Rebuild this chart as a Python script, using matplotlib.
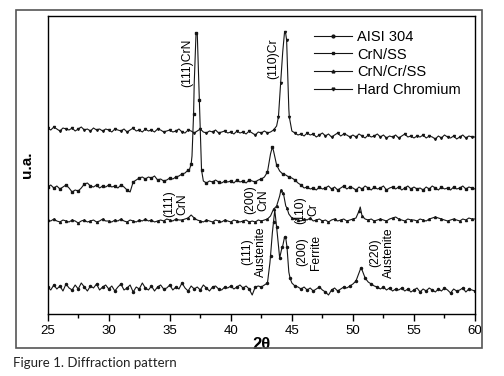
import numpy as np
import matplotlib
matplotlib.use('Agg')
import matplotlib.pyplot as plt
from matplotlib.lines import Line2D
from matplotlib.patches import Rectangle

plt.rcParams['font.family'] = ['Liberation Sans', 'DejaVu Sans']

# 2-theta sampling grid (0.25 deg) shared by all four scans
two_theta = np.arange(25, 60.001, 0.25)

# intensities (arbitrary units, offset per sample)
aisi_304 = [27, 24, 29, 25, 28, 23, 30, 26, 24, 29, 25, 31, 27, 23, 28, 26, 30, 24, 27, 29,
            25, 28, 23, 27, 30, 24, 26, 29, 22, 27, 25, 31, 26, 24, 28, 23, 27, 29, 25, 26,
            29, 24, 27, 25, 31, 26, 23, 28, 25, 27, 24, 29, 26, 23, 27, 28, 25, 24, 27, 26,
            28, 25, 27, 29, 26, 28, 25, 19, 27, 28, 27, 29, 31, 58, 92, 87, 56, 68, 76, 42,
            31, 28, 27, 25, 27, 24, 26, 23, 25, 27, 24, 22, 19, 24, 26, 23, 25, 27, 26, 28,
            30, 33, 41, 44, 36, 32, 30, 28, 27, 25, 27, 24, 26, 23, 25, 24, 26, 23, 25, 22,
            24, 26, 22, 25, 23, 26, 24, 22, 25, 23, 26, 24, 21, 25, 23, 24, 26, 22, 25, 24,
            23]
crn_ss = [127, 129, 126, 128, 125, 127, 129, 126, 122, 124, 123, 126, 130, 131, 128, 127, 129, 126, 128, 127,
          129, 127, 128, 126, 129, 127, 124, 122, 132, 134, 136, 137, 135, 137, 136, 138, 134, 135, 133, 134,
          136, 135, 137, 138, 140, 141, 144, 150, 230, 281, 180, 133, 131, 133, 132, 134, 132, 131, 133, 132,
          133, 131, 134, 132, 133, 131, 134, 133, 132, 134, 135, 137, 142, 160, 163, 149, 143, 140, 139, 137,
          136, 134, 131, 129, 126, 127, 125, 126, 124, 127, 125, 126, 128, 125, 127, 124, 126, 128, 125, 127,
          126, 124, 127, 125, 128, 126, 124, 127, 125, 126, 128, 124, 126, 127, 125, 127, 124, 126, 128, 125,
          127, 125, 126, 124, 127, 125, 128, 126, 124, 127, 125, 126, 124, 127, 125, 126, 128, 125, 127, 126,
          125]
crn_cr_ss = [94, 93, 95, 93, 92, 94, 93, 92, 94, 93, 91, 93, 94, 92, 93, 94, 92, 93, 95, 93,
             93, 92, 94, 93, 95, 93, 92, 94, 93, 92, 94, 93, 95, 93, 94, 92, 93, 94, 93, 95,
             94, 93, 95, 94, 94, 95, 96, 99, 96, 94, 93, 92, 94, 93, 92, 94, 93, 92, 94, 93,
             92, 94, 93, 92, 93, 94, 92, 93, 92, 94, 93, 94, 95, 98, 105, 108, 118, 120, 108, 100,
             96, 95, 94, 93, 95, 94, 96, 93, 94, 95, 93, 94, 92, 94, 95, 93, 94, 95, 93, 94,
             95, 96, 103, 98, 95, 94, 95, 93, 94, 95, 94, 93, 95, 96, 97, 95, 94, 93, 95, 94,
             94, 93, 95, 94, 93, 95, 96, 97, 96, 95, 94, 93, 94, 95, 94, 93, 95, 94, 96, 95,
             95]
hard_cr = [186, 184, 187, 185, 183, 186, 185, 184, 186, 183, 185, 187, 184, 185, 183, 186, 184, 185, 183, 185,
           184, 182, 185, 184, 183, 185, 182, 184, 186, 183, 184, 182, 185, 183, 184, 182, 185, 184, 182, 183,
           184, 182, 183, 185, 182, 181, 184, 183, 181, 183, 185, 182, 181, 183, 182, 184, 181, 182, 183, 181,
           182, 180, 183, 181, 182, 180, 183, 181, 179, 182, 181, 183, 181, 182, 184, 188, 215, 262, 280, 205,
           183, 181, 179, 180, 178, 181, 179, 180, 177, 179, 181, 178, 180, 177, 179, 181, 178, 180, 179, 177,
           179, 177, 180, 178, 176, 179, 177, 178, 180, 177, 179, 176, 178, 177, 179, 176, 178, 180, 177, 178,
           176, 178, 177, 179, 176, 178, 177, 175, 178, 176, 179, 177, 176, 178, 175, 177, 179, 176, 178, 177,
           177]

# extra points read on the peaks
aisi_peak_x = [43.2, 43.4, 43.6, 43.8, 44.0, 44.2, 44.4, 44.6, 44.85, 50.65]
aisi_peak_y = [51, 81, 104, 81, 56, 67, 77, 67, 36, 46]
crn_ss_peak_x = [36.6, 36.82, 36.95, 37.15, 37.42, 37.6, 43.4]
crn_ss_peak_y = [144, 158, 200, 281, 214, 144, 167]
crn_cr_ss_peak_x = [43.6, 44.1, 44.3, 44.6, 50.6]
crn_cr_ss_peak_y = [106, 124, 121, 106, 107]
hard_cr_peak_x = [43.9, 44.08, 44.4, 44.57, 44.79]
hard_cr_peak_y = [197, 231, 282, 274, 197]

labels = ['AISI 304', 'CrN/SS', 'CrN/Cr/SS', 'Hard Chromium']
markers = ['o', 's', '^', 'v']


def merge(y, px, py):
    x = np.concatenate([two_theta, px])
    yy = np.concatenate([y, py])
    order = np.argsort(x, kind='stable')
    return x[order], yy[order]


series = [merge(aisi_304, aisi_peak_x, aisi_peak_y),
          merge(crn_ss, crn_ss_peak_x, crn_ss_peak_y),
          merge(crn_cr_ss, crn_cr_ss_peak_x, crn_cr_ss_peak_y),
          merge(hard_cr, hard_cr_peak_x, hard_cr_peak_y)]

fig = plt.figure(figsize=(5.04, 3.76), dpi=100)
ax = fig.add_axes([47.7 / 504, 62 / 376, 427.3 / 504, 298 / 376])

for (x, y), m in zip(series, markers):
    ax.plot(x, y, color='#151515', lw=0.8, marker=m, ms=1.5, markevery=2)

ax.set_xlim(25, 60)
ax.set_ylim(0, 298)
ax.set_xticks(np.arange(25, 61, 5))
ax.set_xticks(np.arange(25, 60.1, 2.5), minor=True)
ax.set_yticks([])
ax.tick_params(axis='x', which='major', direction='out', length=5, width=1, labelsize=9.5, pad=3)
ax.tick_params(axis='x', which='minor', direction='out', length=3, width=1)
for s in ax.spines.values():
    s.set_linewidth(1)
ax.set_xlabel('2θ', fontsize=12, fontweight='bold', labelpad=0)
ax.set_ylabel('u.a.', fontsize=11, fontweight='bold', labelpad=10)

# peak annotations
notes = [(36.4, 251, '(111)CrN'), (43.5, 255, '(110)Cr'),
         (35.5, 110, '(111)\nCrN'), (42.1, 114, '(200)\nCrN'), (46.2, 104, '(110)\nCr'),
         (41.9, 62, '(111)\nAustenite'), (46.4, 62, '(200)\nFerrite'), (52.4, 61, '(220)\nAustenite')]
for xn, yn, t in notes:
    ax.text(xn, yn, t, rotation=90, ha='center', va='center', fontsize=8.7,
            multialignment='center', linespacing=1.15)

handles = [Line2D([], [], color='#151515', lw=0.8, marker=m, ms=2) for m in markers]
ax.legend(handles, labels, loc='upper left', bbox_to_anchor=(0.6, 0.988), frameon=False,
          fontsize=10.5, handlelength=2.6, handletextpad=0.35, labelspacing=0.26,
          numpoints=1, borderaxespad=0.3)

# outer frame and caption
fig.patches.append(Rectangle((15.7 / 504, 1 - 348 / 376), 466.3 / 504, 338 / 376,
                             transform=fig.transFigure, fill=False, ec='#555555', lw=1.2))
fig.text(13 / 504, 1 - 367 / 376, 'Figure 1. Diffraction pattern', fontsize=9.5,
         family=['Lato', 'DejaVu Sans'], va='baseline', ha='left', color='#222222')

fig.savefig('out.png', dpi=100)
